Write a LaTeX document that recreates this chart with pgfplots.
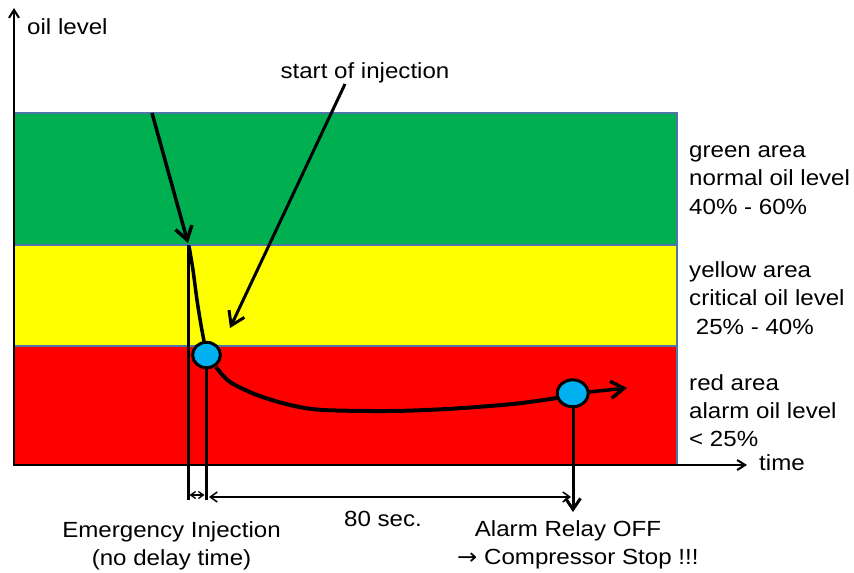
\documentclass[border=0pt]{standalone}
\usepackage{fontspec}
\setmainfont{Liberation Sans}
\newfontfamily\dv{DejaVu Sans}
\usepackage{pgfplots}
\pgfplotsset{compat=1.18}
\usetikzlibrary{arrows.meta}
\definecolor{cgreen}{HTML}{00B050}
\definecolor{cyellow}{HTML}{FFFF00}
\definecolor{cred}{HTML}{FF0000}
\definecolor{cblue}{HTML}{00B0F0}
\definecolor{cborder}{HTML}{4F76A8}
\tikzset{
  T/.style={font=\fontsize{22}{29}\selectfont, inner sep=0pt, xscale=1.1},
  bigtip/.style={-{Straight Barb[length=13bp,width=17bp]}},
  midtip/.style={-{Straight Barb[length=11bp,width=15bp]}},
}
\begin{document}
\begin{tikzpicture}
\begin{axis}[x=1bp,y=1bp,xmin=0,xmax=854,ymin=0,ymax=573,y dir=reverse,
  hide axis,clip=false]
% background
\addplot[draw=none,fill=white] coordinates {(0,0)(854,0)(854,573)(0,573)};
% bands
\addplot[draw=none,fill=cgreen] coordinates {(14,113)(677,113)(677,245)(14,245)};
\addplot[draw=none,fill=cyellow] coordinates {(14,245)(677,245)(677,346)(14,346)};
\addplot[draw=none,fill=cred] coordinates {(14,346)(677,346)(677,465)(14,465)};
\addplot[cborder,line width=1.3bp] coordinates {(14,465)(14,113)(677,113)(677,465)};
\addplot[cborder,line width=1.3bp] coordinates {(14,245)(677,245)};
\addplot[cborder,line width=1.3bp] coordinates {(14,346)(677,346)};
% axes
\addplot[black,line width=2bp,-{Straight Barb[length=8bp,width=10bp]}] coordinates {(14,466)(14,8)};
\addplot[black,line width=2bp,-{Straight Barb[length=8bp,width=10bp]}] coordinates {(13,465)(747,465)};
% oil level curve
\addplot[black,line width=3.5bp,bigtip] coordinates {(152,113)(188,243)};
\addplot[black,line width=3.5bp,smooth] coordinates {(189,246)(193,270)(197,300)(201,325)(204,341)};
\addplot[black,line width=4bp,smooth] coordinates {(216,367)(230,382)(257,395)(290,405)(323,410)(390,411)(447,409)(513,404)(557,398)};
\addplot[black,line width=3.5bp,bigtip] coordinates {(589,392)(627,388)};
% start of injection arrow
\addplot[black,line width=3bp,bigtip] coordinates {(345,84)(230,328)};
% vertical lines
\addplot[black,line width=3bp] coordinates {(188,245)(188,500)};
\addplot[black,line width=3bp] coordinates {(206,360)(206,500)};
\addplot[black,line width=3bp,midtip] coordinates {(573,400)(573,512)};
% dimension arrows
\addplot[black,line width=1.3bp,{Straight Barb[length=5bp,width=7bp]}-{Straight Barb[length=5bp,width=7bp]}] coordinates {(189.5,495)(204.5,495)};
\addplot[black,line width=1.5bp,{Straight Barb[length=7bp,width=10bp]}-{Straight Barb[length=7bp,width=10bp]}] coordinates {(209,497)(571,497)};
% markers
\addplot[only marks,mark=*,mark size=12.8,mark options={fill=cblue,draw=black,line width=3bp,xscale=1.09}] coordinates {(206.5,355)};
\addplot[only marks,mark=*,mark size=13.5,mark options={fill=cblue,draw=black,line width=3bp,xscale=1.15}] coordinates {(572.7,393.3)};
% texts
\node[T,anchor=base west] at (axis cs:27,35) {oil level};
\node[T,anchor=base] at (axis cs:365,79) {start of injection};
\node[T,anchor=base west] at (axis cs:759,470) {time};
\node[T,anchor=base west] at (axis cs:689,158) {green area};
\node[T,anchor=base west] at (axis cs:689,186) {normal oil level};
\node[T,anchor=base west] at (axis cs:689,215) {40\% - 60\%};
\node[T,anchor=base west] at (axis cs:689,277) {yellow area};
\node[T,anchor=base west] at (axis cs:689,305) {critical oil level};
\node[T,anchor=base west] at (axis cs:689,334) {\ 25\% - 40\%};
\node[T,anchor=base west] at (axis cs:689,390) {red area};
\node[T,anchor=base west] at (axis cs:689,418) {alarm oil level};
\node[T,anchor=base west] at (axis cs:689,446) {< 25\%};
\node[T,anchor=base] at (axis cs:383,526) {80 sec.};
\node[T,anchor=base] at (axis cs:171.5,537) {Emergency Injection};
\node[T,anchor=base] at (axis cs:171.5,565) {(no delay time)};
\node[T,anchor=base] at (axis cs:568,536) {Alarm Relay OFF};
\node[T,anchor=base west] at (axis cs:457,564) {{\dv →} Compressor Stop !!!};
\end{axis}
\end{tikzpicture}
\end{document}
